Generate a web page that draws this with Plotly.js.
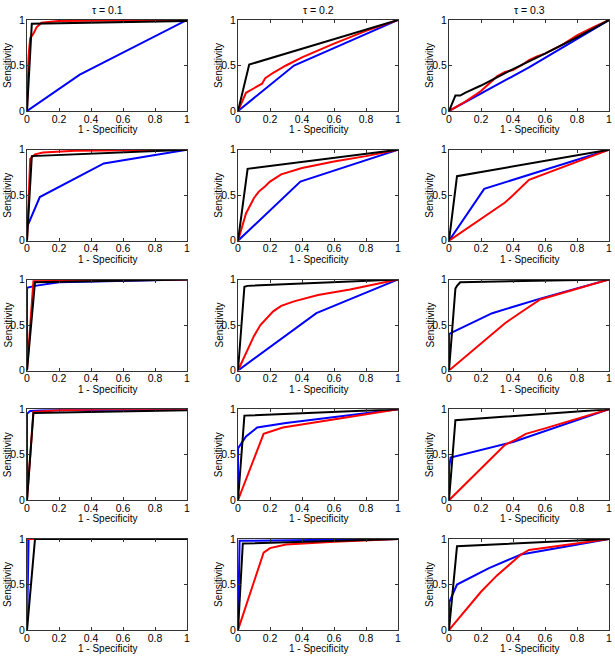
<!DOCTYPE html>
<html>
<head>
<meta charset="utf-8">
<script src="https://cdn.plot.ly/plotly-3.0.1.min.js"></script>
<style>html,body{margin:0;padding:0;background:#fff}#chart{width:615px;height:660px}</style>
</head>
<body>
<div id="chart"></div>
<script>
// Column titles, axis titles and tick labels
const columnTitles = ["τ = 0.1", "τ = 0.2", "τ = 0.3"];
const xTitle = "1 - Specificity";
const yTitle = "Sensitivity";
const xTicks = [0, 0.2, 0.4, 0.6, 0.8, 1];
const yTicks = [0, 0.5, 1];

// ROC curves: [1-specificity, sensitivity] pairs, per panel (row r, column c)
const p11_blue  = [[0,0],[0.33,0.4],[1,1]];
const p11_red   = [[0,0],[0.01,0.6],[0.02,0.8],[0.04,0.85],[0.06,0.92],[0.09,0.97],[0.2,0.99],[1,1]];
const p11_black = [[0,0],[0.03,0.96],[1,0.99],[1,1]];

const p12_blue  = [[0,0],[0.35,0.5],[1,1]];
const p12_red   = [[0,0],[0.05,0.2],[0.1,0.25],[0.15,0.3],[0.17,0.36],[0.22,0.42],[0.3,0.5],[0.4,0.59],[0.6,0.74],[0.8,0.88],[1,1]];
const p12_black = [[0,0],[0.07,0.51],[1,1]];

const p13_blue  = [[0,0],[0.5,0.48],[1,1]];
const p13_red   = [[0,0],[0.1,0.1],[0.2,0.22],[0.3,0.38],[0.35,0.43],[0.4,0.45],[0.45,0.5],[0.5,0.56],[0.55,0.6],[0.6,0.63],[0.7,0.72],[0.8,0.83],[0.9,0.92],[1,1]];
const p13_black = [[0,0],[0.04,0.17],[0.07,0.17],[0.1,0.2],[0.2,0.28],[0.4,0.46],[0.6,0.63],[0.8,0.81],[1,1]];

const p21_blue  = [[0,0],[0,0.15],[0.08,0.48],[0.48,0.85],[1,1]];
const p21_red   = [[0,0],[0.02,0.9],[0.05,0.95],[0.1,0.97],[0.3,0.99],[1,1]];
const p21_black = [[0,0],[0.03,0.93],[1,1]];

const p22_blue  = [[0,0],[0.39,0.65],[1,1]];
const p22_red   = [[0,0],[0.05,0.3],[0.1,0.47],[0.13,0.54],[0.17,0.6],[0.2,0.65],[0.27,0.73],[0.4,0.8],[0.6,0.87],[0.8,0.93],[1,1]];
const p22_black = [[0,0],[0.06,0.79],[1,1]];

const p23_blue  = [[0,0],[0.22,0.57],[1,1]];
const p23_red   = [[0,0],[0.35,0.42],[0.4,0.5],[0.5,0.67],[1,1]];
const p23_black = [[0,0],[0.05,0.71],[1,1]];

const p31_blue  = [[0,0],[0,0.91],[0.05,0.93],[0.2,0.97],[1,1]];
const p31_red   = [[0,0],[0.04,0.98],[1,1]];
const p31_black = [[0,0],[0.05,0.97],[1,1]];

const p32_blue  = [[0,0],[0.49,0.63],[1,1]];
const p32_red   = [[0,0],[0.05,0.2],[0.1,0.38],[0.14,0.5],[0.18,0.57],[0.22,0.65],[0.27,0.71],[0.35,0.76],[0.5,0.83],[0.7,0.89],[1,1]];
const p32_black = [[0,0],[0.04,0.92],[0.06,0.93],[1,1]];

const p33_blue  = [[0,0],[0,0.4],[0.02,0.42],[0.27,0.63],[0.57,0.79],[1,1]];
const p33_red   = [[0,0],[0.2,0.3],[0.35,0.52],[0.45,0.64],[0.5,0.7],[0.57,0.78],[1,1]];
const p33_black = [[0,0],[0.04,0.9],[0.05,0.93],[0.07,0.97],[1,1]];

const p41_blue  = [[0,0],[0,0.95],[0.02,0.98],[0.1,0.99],[1,1]];
const p41_red   = [[0,0],[0.04,0.97],[0.2,0.99],[0.5,1],[1,1]];
const p41_black = [[0,0],[0.04,0.96],[1,0.99],[1,1]];

const p42_blue  = [[0,0],[0,0.57],[0.05,0.7],[0.12,0.8],[0.3,0.85],[1,1]];
const p42_red   = [[0,0],[0.16,0.73],[0.28,0.8],[1,1]];
const p42_black = [[0,0],[0.04,0.93],[1,1]];

const p43_blue  = [[0,0],[0,0.35],[0.01,0.47],[0.2,0.55],[0.4,0.64],[1,1]];
const p43_red   = [[0,0],[0.35,0.61],[0.42,0.67],[0.48,0.73],[0.6,0.79],[1,1]];
const p43_black = [[0,0],[0.04,0.88],[1,1]];

const p51_blue  = [[0,0],[0.01,1],[1,1]];
const p51_red   = [[0,0],[0,1],[1,1]];
const p51_black = [[0,0],[0.05,1],[1,1]];

const p52_blue  = [[0,0],[0.01,0.98],[1,1]];
const p52_red   = [[0,0],[0.16,0.85],[0.2,0.9],[0.3,0.94],[0.6,0.97],[1,1]];
const p52_black = [[0,0],[0.03,0.95],[1,1]];

const p53_blue  = [[0,0],[0,0.3],[0.05,0.5],[0.25,0.68],[0.45,0.83],[1,1]];
const p53_red   = [[0,0],[0.2,0.42],[0.3,0.6],[0.35,0.68],[0.45,0.83],[0.5,0.88],[0.7,0.93],[1,1]];
const p53_black = [[0,0],[0.05,0.92],[1,1]];

const panels = [
  [[p11_blue,p11_red,p11_black],[p12_blue,p12_red,p12_black],[p13_blue,p13_red,p13_black]],
  [[p21_blue,p21_red,p21_black],[p22_blue,p22_red,p22_black],[p23_blue,p23_red,p23_black]],
  [[p31_blue,p31_red,p31_black],[p32_blue,p32_red,p32_black],[p33_blue,p33_red,p33_black]],
  [[p41_blue,p41_red,p41_black],[p42_blue,p42_red,p42_black],[p43_blue,p43_red,p43_black]],
  [[p51_blue,p51_red,p51_black],[p52_blue,p52_red,p52_black],[p53_blue,p53_red,p53_black]]
];
const seriesColors = ["#0000ff", "#ff0000", "#000000"];

const W = 615, H = 660;
const colLeft = [27, 238, 449], plotW = 160;
const rowTop0 = 20, rowStep = 129.75, plotH = 91;

const traces = [];
const layout = {
  width: W, height: H,
  margin: {l:0, r:0, t:0, b:0},
  paper_bgcolor: "#fff", plot_bgcolor: "#fff",
  showlegend: false,
  font: {family: "Liberation Sans, Arial, sans-serif", size: 10, color: "#000"},
  annotations: []
};

let k = 0;
for (let r = 0; r < 5; r++) {
  for (let c = 0; c < 3; c++) {
    k++;
    const xa = "xaxis" + (k === 1 ? "" : k), ya = "yaxis" + (k === 1 ? "" : k);
    const xr = "x" + (k === 1 ? "" : k), yr = "y" + (k === 1 ? "" : k);
    const top = rowTop0 + r * rowStep;
    const common = {
      range: [0, 1], showgrid: false, zeroline: false,
      showline: true, linecolor: "#333", linewidth: 1, mirror: "ticks",
      ticks: "inside", ticklen: 3, tickcolor: "#333",
      tickfont: {size: 10.5}, fixedrange: true
    };
    layout[xa] = Object.assign({}, common, {
      domain: [colLeft[c] / W, (colLeft[c] + plotW) / W],
      anchor: yr, tickvals: xTicks, ticktext: xTicks.map(String),
      ticklabelstandoff: -2
    });
    layout[ya] = Object.assign({}, common, {
      domain: [1 - (top + plotH) / H, 1 - top / H],
      anchor: xr, tickvals: yTicks, ticktext: yTicks.map(String),
      ticklabelstandoff: -1
    });
    panels[r][c].forEach((pts, s) => {
      traces.push({
        type: "scatter", mode: "lines",
        x: pts.map(p => p[0]), y: pts.map(p => p[1]),
        xaxis: xr, yaxis: yr,
        line: {color: seriesColors[s], width: 2},
        hoverinfo: "skip"
      });
    });
    // axis titles placed as paper annotations
    layout.annotations.push({
      text: xTitle, xref: "paper", yref: "paper",
      x: (colLeft[c] + plotW / 2) / W, y: 1 - (top + plotH + 18.5) / H,
      xanchor: "center", yanchor: "middle", showarrow: false, font: {size: 10}
    });
    layout.annotations.push({
      text: yTitle, xref: "paper", yref: "paper", textangle: -90,
      x: (colLeft[c] - 19.5) / W, y: 1 - (top + plotH / 2) / H,
      xanchor: "center", yanchor: "middle", showarrow: false, font: {size: 10}
    });
  }
}
columnTitles.forEach((t, c) => {
  layout.annotations.push({
    text: t, xref: "paper", yref: "paper",
    x: (colLeft[c] + plotW / 2) / W, y: 1 - 10 / H,
    xanchor: "center", yanchor: "middle", showarrow: false,
    font: {size: 10.5}
  });
});

Plotly.newPlot("chart", traces, layout, {displayModeBar: false, staticPlot: true});
</script>
</body>
</html>
